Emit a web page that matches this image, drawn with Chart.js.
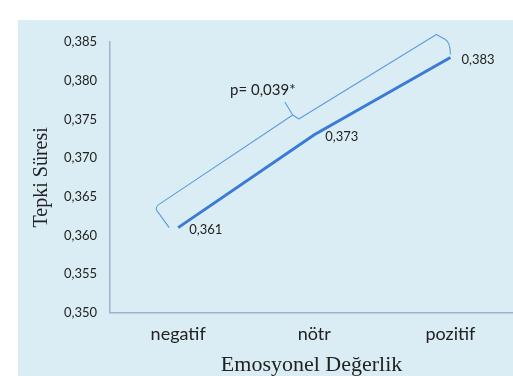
<!DOCTYPE html>
<html>
<head>
<meta charset="utf-8">
<script src="https://cdn.jsdelivr.net/npm/chart.js@4/dist/chart.umd.min.js"></script>
<style>
  html, body { margin: 0; padding: 0; background: #ffffff; }
  #wrap { width: 513px; height: 376px; position: relative; }
</style>
</head>
<body>
<div id="wrap"><canvas id="c" width="513" height="376"></canvas></div>
<script>
// ---- data ----
const categories = ['negatif', 'nötr', 'pozitif'];
const reactionTimes = [0.361, 0.373, 0.383];
const yTickValues = [0.350, 0.355, 0.360, 0.365, 0.370, 0.375, 0.380, 0.385];
const pValueLabel = 'p= 0,039*';
const yTitle = 'Tepki Süresi';
const xTitle = 'Emosyonel Değerlik';

const fmt = v => v.toFixed(3).replace('.', ',');
const sansFont = "Lato, 'Open Sans', sans-serif";
const serifFont = "'Liberation Serif', 'DejaVu Serif', serif";

const panelPlugin = {
  id: 'panel',
  beforeDraw(chart) {
    const ctx = chart.ctx;
    ctx.save();
    ctx.fillStyle = '#ffffff';
    ctx.fillRect(0, 0, chart.width, chart.height);
    ctx.fillStyle = '#dbedf4';
    ctx.fillRect(18, 20, chart.width - 18, chart.height - 20);
    ctx.restore();
  }
};

const labelPlugin = {
  id: 'labels',
  afterDatasetsDraw(chart) {
    const ctx = chart.ctx;
    const xs = chart.scales.x, ys = chart.scales.y;
    ctx.save();
    ctx.font = "13px " + sansFont;
    ctx.fillStyle = '#222222';
    ctx.textAlign = 'left';
    ctx.textBaseline = 'middle';
    reactionTimes.forEach((v, i) => {
      ctx.fillText(fmt(v), xs.getPixelForValue(i) + 11, ys.getPixelForValue(v) + 2);
    });

    // brace
    const p0 = { x: xs.getPixelForValue(0), y: ys.getPixelForValue(reactionTimes[0]) };
    const p2 = { x: xs.getPixelForValue(2), y: ys.getPixelForValue(reactionTimes[2]) };
    const lowTip = { x: p0.x - 9, y: p0.y };
    const lowCorner = { x: p0.x - 21, y: p0.y - 22 };
    const upCorner = { x: p2.x - 14, y: p2.y - 23 };
    const upTip = { x: p2.x, y: p2.y - 3 };
    const M = { x: (lowCorner.x + upCorner.x) / 2, y: (lowCorner.y + upCorner.y) / 2 };
    const J = { x: M.x - 4, y: M.y - 5 };
    const C = { x: M.x + 2, y: M.y - 1 };
    const F = { x: M.x - 12, y: M.y - 18 };
    ctx.strokeStyle = '#5b9be0';
    ctx.lineWidth = 1.1;
    ctx.lineJoin = 'round';
    ctx.beginPath();
    ctx.moveTo(lowTip.x, lowTip.y);
    ctx.lineTo(lowCorner.x - 1, lowCorner.y + 4);
    ctx.quadraticCurveTo(lowCorner.x - 1, lowCorner.y, lowCorner.x + 3, lowCorner.y - 2);
    ctx.lineTo(J.x, J.y);
    ctx.stroke();
    ctx.beginPath();
    ctx.moveTo(F.x, F.y);
    ctx.lineTo(J.x, J.y);
    ctx.lineTo(C.x, C.y);
    ctx.lineTo(upCorner.x, upCorner.y);
    ctx.lineTo(upCorner.x + 9, upCorner.y + 5);
    ctx.quadraticCurveTo(upTip.x, upTip.y - 12, upTip.x, upTip.y);
    ctx.stroke();

    ctx.font = "15px " + sansFont;
    ctx.fillStyle = '#222222';
    ctx.textAlign = 'center';
    ctx.fillText(pValueLabel, F.x - 22, F.y - 12);
    ctx.restore();
  }
};

new Chart(document.getElementById('c'), {
  type: 'line',
  data: {
    datasets: [{
      data: reactionTimes.map((v, i) => ({ x: i, y: v })),
      borderColor: '#3a7ad8',
      borderWidth: 3,
      pointRadius: 0,
      tension: 0,
      fill: false
    }]
  },
  options: {
    responsive: false,
    animation: false,
    devicePixelRatio: 1,
    layout: { padding: { top: 42, right: 0, bottom: 0, left: 9 } },
    plugins: { legend: { display: false }, tooltip: { enabled: false } },
    scales: {
      x: {
        type: 'linear',
        min: -0.5,
        max: 2.46,
        afterBuildTicks: s => { s.ticks = categories.map((c, i) => ({ value: i })); },
        ticks: {
          callback: (v) => categories[v],
          font: { family: sansFont, size: 18 },
          color: '#222222',
          padding: 11,
          maxRotation: 0,
          autoSkip: false
        },
        grid: { display: false, drawTicks: false },
        border: { display: true, color: '#9fb1cc', width: 1.5 },
        title: {
          display: true,
          text: xTitle,
          font: { family: serifFont, size: 22, lineHeight: 0.85 },
          color: '#222222',
          padding: { top: 0, bottom: 1 }
        }
      },
      y: {
        type: 'linear',
        min: 0.35,
        max: 0.385,
        afterBuildTicks: s => { s.ticks = yTickValues.map(v => ({ value: v })); },
        ticks: {
          callback: v => fmt(v),
          font: { family: sansFont, size: 13 },
          color: '#222222',
          padding: 13
        },
        grid: { display: false, drawTicks: false },
        border: { display: true, color: '#9fb1cc', width: 1.5 },
        title: {
          display: true,
          text: yTitle,
          font: { family: serifFont, size: 20 },
          color: '#222222',
          padding: { top: 21, bottom: -3 }
        }
      }
    }
  },
  plugins: [panelPlugin, labelPlugin]
});
</script>
</body>
</html>
